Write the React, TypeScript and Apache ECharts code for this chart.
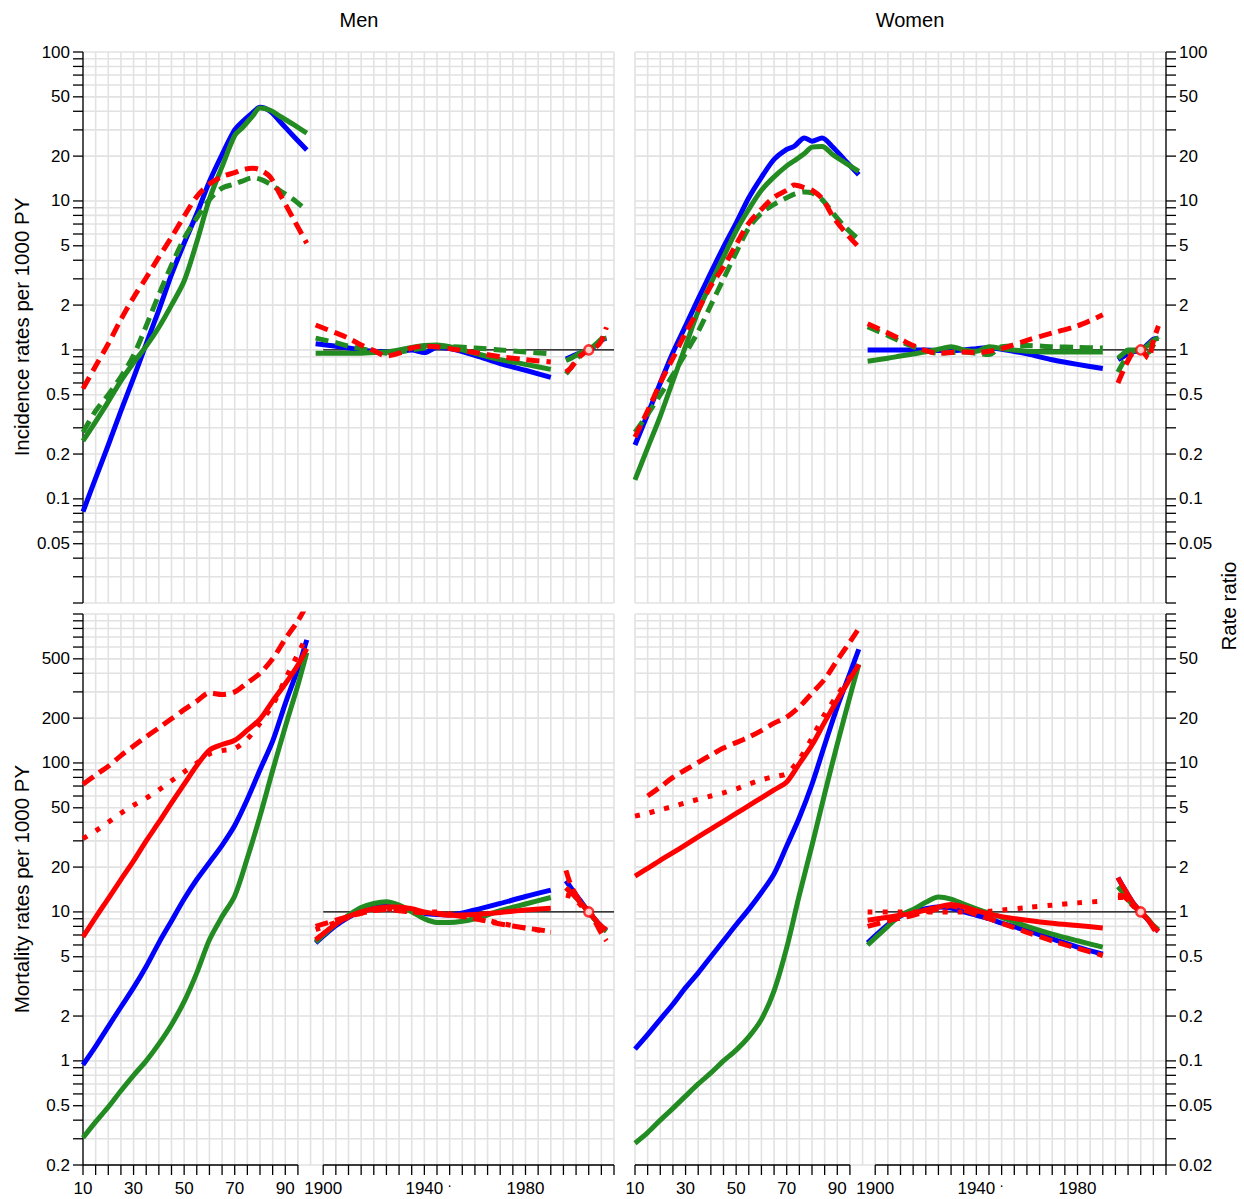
import { useEffect, useRef } from "react";
import * as echarts from "echarts";

// ---------- look ----------
const FONT = '"Liberation Sans", Arial, Helvetica, sans-serif';
const BLUE = "#0000ff";
const GREEN = "#228b22";
const RED = "#ff0000";
const GRID_COLOR = "#e2e2e2";
const LINE_W = 5;

// Calendar years share the x scale with age: year - YEAR_SHIFT gives the position.
const YEAR_SHIFT = 1795;
const X_MIN = 10;
const X_MAX = 220;

// ---------- axes ----------
const AGE_TICKS = [10, 15, 20, 25, 30, 35, 40, 45, 50, 55, 60, 65, 70, 75, 80, 85, 90, 95];
const AGE_LABELS = [10, 30, 50, 70, 90];
const YEAR_TICKS = [1900, 1905, 1910, 1915, 1920, 1925, 1930, 1935, 1940, 1945, 1950, 1955, 1960, 1965, 1970, 1975, 1980, 1985, 1990, 1995, 2000, 2005, 2010, 2015];
const YEAR_LABELS = [1900, 1940, 1980];
const RATE_LABELS_INC = [0.05, 0.1, 0.2, 0.5, 1, 2, 5, 10, 20, 50, 100];
const RATE_LABELS_MORT = [0.2, 0.5, 1, 2, 5, 10, 20, 50, 100, 200, 500];
const RR_LABELS_INC = [0.05, 0.1, 0.2, 0.5, 1, 2, 5, 10, 20, 50, 100];
const RR_LABELS_MORT = [0.02, 0.05, 0.1, 0.2, 0.5, 1, 2, 5, 10, 20, 50];

// ---------- data ----------
const AGES_INC = [10, 15, 20, 25, 30, 35, 40, 45, 50, 55, 60, 65, 70, 73, 77, 80, 84, 88, 93, 98.5];
const AGES_MORT = [10, 15, 20, 25, 30, 35, 40, 45, 50, 55, 60, 65, 70, 75, 80, 85, 90, 95, 98.5];
const PERIODS = [1897, 1905, 1910, 1915, 1920, 1925, 1930, 1935, 1940, 1945, 1950, 1960, 1970, 1980, 1990];
const COHORTS = [1996, 1998, 2000, 2002, 2005, 2008, 2010, 2012];
const COHORT_REF = 2005;

// Men, incidence per 1000 PY by age
const MEN_INC_AGE_BLUE = [0.082, 0.138, 0.23, 0.39, 0.65, 1.1, 1.85, 3.2, 5.2, 8.2, 13.5, 20.5, 30, 34, 39, 42.5, 40, 34, 27.5, 22];
const MEN_INC_AGE_GREEN = [0.245, 0.33, 0.45, 0.62, 0.82, 1.06, 1.42, 2.0, 2.9, 5.3, 10.3, 17, 27.5, 31, 37, 42, 40.6, 36.9, 32.8, 28.5];
const MEN_INC_AGE_GREEN_DASH = [0.28, 0.39, 0.5, 0.66, 0.92, 1.45, 2.35, 3.7, 5.6, 7.7, 10.2, 12.2, 13, 13.6, 14.3, 14, 13, 11.7, 10.3, 8.6];
const MEN_INC_AGE_RED_DASH = [0.55, 0.78, 1.1, 1.6, 2.25, 3.05, 4.2, 5.7, 7.9, 10.7, 13.0, 14.6, 15.5, 16.2, 16.6, 16.2, 14.5, 11, 7.7, 5.2];
// Men, incidence rate ratios by period and cohort
const MEN_INC_PER_BLUE = [1.1, 1.06, 1.03, 1.0, 0.98, 0.97, 0.98, 1.0, 0.96, 1.04, 1.02, 0.92, 0.81, 0.73, 0.655];
const MEN_INC_PER_GREEN = [0.95, 0.95, 0.95, 0.95, 0.96, 0.97, 1.0, 1.04, 1.07, 1.08, 1.05, 0.95, 0.86, 0.8, 0.74];
const MEN_INC_PER_GREEN_DASH = [1.2, 1.12, 1.06, 1.02, 0.98, 0.95, 0.97, 1.0, 1.03, 1.05, 1.05, 1.03, 1.0, 0.97, 0.94];
const MEN_INC_PER_RED_DASH = [1.47, 1.3, 1.2, 1.08, 0.99, 0.91, 0.95, 1.03, 1.06, 1.05, 1.02, 0.96, 0.9, 0.86, 0.83];
const MEN_INC_COH_BLUE = [0.87, 0.9, 0.93, 0.96, 1.0, 1.08, 1.16, 1.2];
const MEN_INC_COH_GREEN = [0.85, 0.88, 0.92, 0.96, 1.0, 1.1, 1.18, 1.2];
const MEN_INC_COH_GREEN_DASH = [0.69, 0.76, 0.86, 0.93, 1.0, 1.08, 1.18, 1.33];
const MEN_INC_COH_RED_DASH = [0.71, 0.76, 0.84, 0.92, 1.0, 1.05, 1.15, 1.42];

// Women, incidence
const WOM_INC_AGE_BLUE = [0.23, 0.37, 0.6, 0.96, 1.45, 2.2, 3.3, 4.9, 7.1, 10.5, 14.4, 19, 22.2, 23.3, 26.5, 25.2, 26.5, 23.2, 18.8, 15];
const WOM_INC_AGE_GREEN = [0.134, 0.22, 0.36, 0.62, 1.06, 1.82, 2.8, 4.2, 6.3, 8.8, 11.8, 14.5, 17.2, 18.6, 20.8, 23, 23.2, 20.6, 18.1, 15.8];
const WOM_INC_AGE_GREEN_DASH = [0.28, 0.37, 0.5, 0.68, 0.95, 1.33, 2.0, 3.0, 4.5, 6.6, 8.3, 9.5, 10.5, 11.1, 11.5, 11.3, 10.2, 8.4, 6.7, 5.5];
const WOM_INC_AGE_RED_DASH = [0.26, 0.39, 0.6, 0.88, 1.3, 1.85, 2.7, 3.6, 5.1, 7.1, 8.8, 10.6, 11.8, 12.8, 12.3, 11.8, 10.4, 8.0, 6.2, 4.9];
const WOM_INC_PER_BLUE = [1.0, 1.0, 1.0, 1.0, 1.0, 0.99, 0.99, 1.0, 1.02, 1.04, 1.01, 0.94, 0.86, 0.8, 0.75];
const WOM_INC_PER_GREEN = [0.84, 0.88, 0.91, 0.94, 0.97, 1.01, 1.05, 1.0, 0.98, 1.05, 1.02, 0.98, 0.97, 0.97, 0.97];
const WOM_INC_PER_GREEN_DASH = [1.43, 1.25, 1.14, 1.05, 0.99, 0.95, 0.96, 0.97, 0.95, 0.93, 1.05, 1.07, 1.05, 1.04, 1.03];
const WOM_INC_PER_RED_DASH = [1.5, 1.3, 1.18, 1.07, 0.99, 0.95, 0.96, 0.97, 0.96, 0.98, 1.02, 1.16, 1.3, 1.45, 1.72];
const WOM_INC_COH_BLUE = [0.86, 0.9, 0.94, 0.97, 1.0, 1.1, 1.18, 1.2];
const WOM_INC_COH_GREEN = [0.88, 0.94, 1.0, 1.0, 1.0, 1.08, 1.16, 1.2];
const WOM_INC_COH_GREEN_DASH = [0.71, 0.82, 0.93, 0.98, 1.0, 0.96, 1.08, 1.22];
const WOM_INC_COH_RED_DASH = [0.6, 0.72, 0.85, 0.96, 1.0, 0.88, 1.15, 1.45];

// Men, mortality per 1000 PY by age
const MEN_MORT_AGE_BLUE = [0.94, 1.25, 1.7, 2.3, 3.1, 4.3, 6.2, 8.7, 12.2, 16.5, 21.5, 28, 38, 57, 90, 140, 250, 430, 670];
const MEN_MORT_AGE_GREEN = [0.305, 0.39, 0.49, 0.63, 0.8, 1.0, 1.3, 1.75, 2.5, 3.9, 6.5, 9.3, 12.8, 23, 44, 89, 175, 334, 550];
const MEN_MORT_AGE_RED = [6.8, 9.2, 12.3, 16.5, 22, 30, 40, 54, 72, 96, 122, 133, 142, 166, 197, 260, 340, 455, 585];
const MEN_MORT_AGE_RED_DASH = [72, 83, 95, 112, 130, 150, 172, 198, 228, 260, 295, 288, 300, 345, 400, 500, 680, 900, 1150];
const MEN_MORT_AGE_RED_DOT = [31, 35, 40, 46, 52, 58, 66, 76, 87, 100, 115, 121, 125, 145, 185, 245, 365, 540, 710];
const MEN_MORT_PER_BLUE = [0.62, 0.81, 0.92, 1.02, 1.09, 1.11, 1.08, 1.03, 0.98, 0.96, 0.955, 1.03, 1.14, 1.27, 1.4];
const MEN_MORT_PER_GREEN = [0.63, 0.83, 0.95, 1.07, 1.14, 1.17, 1.11, 1.0, 0.9, 0.85, 0.85, 0.9, 1.02, 1.13, 1.25];
const MEN_MORT_PER_RED = [0.65, 0.83, 0.93, 1.0, 1.05, 1.08, 1.08, 1.05, 1.0, 0.97, 0.95, 0.96, 0.99, 1.03, 1.06];
const MEN_MORT_PER_RED_DASH = [0.8, 0.88, 0.93, 0.98, 1.02, 1.04, 1.02, 1.0, 0.99, 0.98, 0.96, 0.9, 0.83, 0.78, 0.74];
const MEN_MORT_PER_RED_DOT = [0.76, 0.85, 0.92, 0.98, 1.03, 1.05, 1.03, 1.0, 1.0, 1.0, 0.97, 0.92, 0.84, 0.78, 0.73];
const MEN_MORT_COH_BLUE = [1.62, 1.45, 1.3, 1.17, 1.0, 0.87, 0.8, 0.75];
const MEN_MORT_COH_GREEN = [1.45, 1.35, 1.25, 1.14, 1.0, 0.86, 0.79, 0.74];
const MEN_MORT_COH_RED = [1.45, 1.35, 1.25, 1.14, 1.0, 0.87, 0.8, 0.76];
const MEN_MORT_COH_RED_DASH = [1.9, 1.5, 1.3, 1.15, 1.0, 0.83, 0.72, 0.64];
const MEN_MORT_COH_RED_DOT = [1.3, 1.27, 1.2, 1.1, 1.0, 0.88, 0.8, 0.75];

// Women, mortality
const WOM_MORT_AGE_BLUE = [1.2, 1.5, 1.9, 2.4, 3.1, 3.9, 5.0, 6.4, 8.2, 10.4, 13.5, 18, 27.7, 43, 72, 132, 238, 400, 580];
const WOM_MORT_AGE_GREEN = [0.28, 0.33, 0.4, 0.48, 0.58, 0.7, 0.83, 1.0, 1.18, 1.45, 1.9, 2.95, 5.75, 13, 28, 62, 134, 279, 460];
const WOM_MORT_AGE_RED = [17.4, 19.6, 22.2, 25, 28.2, 31.9, 36, 40.6, 45.8, 51.7, 58.4, 65.9, 74.5, 99, 132, 188, 265, 366, 458];
const WOM_MORT_AGE_RED_DASH = [null, 60, 69, 80, 90, 101, 113, 126, 137, 149, 165, 185, 203, 238, 294, 365, 490, 650, 800];
const WOM_MORT_AGE_RED_DOT = [44, 46, 48.5, 51, 54, 57, 60, 63, 67, 72, 77, 81, 85, 106, 147, 212, 285, 377, 455];
const WOM_MORT_PER_BLUE = [0.62, 0.82, 0.94, 1.01, 1.05, 1.08, 1.06, 1.0, 0.95, 0.9, 0.84, 0.75, 0.66, 0.58, 0.52];
const WOM_MORT_PER_GREEN = [0.6, 0.8, 0.95, 1.04, 1.16, 1.26, 1.22, 1.13, 1.05, 0.98, 0.92, 0.8, 0.71, 0.64, 0.58];
const WOM_MORT_PER_RED = [0.88, 0.92, 0.95, 0.98, 1.03, 1.08, 1.12, 1.08, 1.02, 0.97, 0.93, 0.88, 0.84, 0.81, 0.78];
const WOM_MORT_PER_RED_DASH = [0.8, 0.87, 0.91, 0.95, 1.0, 1.05, 1.1, 1.03, 0.96, 0.9, 0.84, 0.73, 0.64, 0.57, 0.51];
const WOM_MORT_PER_RED_DOT = [1.0, 1.0, 1.0, 1.0, 1.0, 1.0, 1.0, 1.0, 1.0, 1.01, 1.03, 1.07, 1.11, 1.15, 1.18];
const WOM_MORT_COH_BLUE = [1.7, 1.48, 1.3, 1.15, 1.0, 0.88, 0.8, 0.74];
const WOM_MORT_COH_GREEN = [1.48, 1.35, 1.22, 1.1, 1.0, 0.89, 0.81, 0.76];
const WOM_MORT_COH_RED = [1.7, 1.48, 1.3, 1.15, 1.0, 0.88, 0.8, 0.74];
const WOM_MORT_COH_RED_DASH = [1.3, 1.28, 1.2, 1.1, 1.0, 0.88, 0.78, 0.7];
const WOM_MORT_COH_RED_DOT = [1.25, 1.25, 1.18, 1.1, 1.0, 0.88, 0.8, 0.73];

// ---------- panel definitions ----------
type Dash = "solid" | "dashed" | "dotted";
type Curve = { color: string; dash: Dash; age: (number | null)[]; period: number[]; cohort: number[] };
type Panel = {
  grid: { left: number; top: number; width: number; height: number };
  yMin: number;
  yMax: number;
  rrScale: number;
  side: "left" | "right";
  labels: number[];
  showX: boolean;
  ages: number[];
  curves: Curve[];
};

const DASHES: Record<Dash, any> = { solid: "solid", dashed: [13, 7], dotted: [5, 10] };

const PANELS: Panel[] = [
  {
    grid: { left: 83, top: 52, width: 531, height: 551 },
    yMin: 0.02, yMax: 100, rrScale: 1, side: "left", labels: RATE_LABELS_INC, showX: false, ages: AGES_INC,
    curves: [
      { color: BLUE, dash: "solid", age: MEN_INC_AGE_BLUE, period: MEN_INC_PER_BLUE, cohort: MEN_INC_COH_BLUE },
      { color: GREEN, dash: "solid", age: MEN_INC_AGE_GREEN, period: MEN_INC_PER_GREEN, cohort: MEN_INC_COH_GREEN },
      { color: GREEN, dash: "dashed", age: MEN_INC_AGE_GREEN_DASH, period: MEN_INC_PER_GREEN_DASH, cohort: MEN_INC_COH_GREEN_DASH },
      { color: RED, dash: "dashed", age: MEN_INC_AGE_RED_DASH, period: MEN_INC_PER_RED_DASH, cohort: MEN_INC_COH_RED_DASH },
    ],
  },
  {
    grid: { left: 635, top: 52, width: 531, height: 551 },
    yMin: 0.02, yMax: 100, rrScale: 1, side: "right", labels: RR_LABELS_INC, showX: false, ages: AGES_INC,
    curves: [
      { color: BLUE, dash: "solid", age: WOM_INC_AGE_BLUE, period: WOM_INC_PER_BLUE, cohort: WOM_INC_COH_BLUE },
      { color: GREEN, dash: "solid", age: WOM_INC_AGE_GREEN, period: WOM_INC_PER_GREEN, cohort: WOM_INC_COH_GREEN },
      { color: GREEN, dash: "dashed", age: WOM_INC_AGE_GREEN_DASH, period: WOM_INC_PER_GREEN_DASH, cohort: WOM_INC_COH_GREEN_DASH },
      { color: RED, dash: "dashed", age: WOM_INC_AGE_RED_DASH, period: WOM_INC_PER_RED_DASH, cohort: WOM_INC_COH_RED_DASH },
    ],
  },
  {
    grid: { left: 83, top: 614, width: 531, height: 551 },
    yMin: 0.2, yMax: 1000, rrScale: 10, side: "left", labels: RATE_LABELS_MORT, showX: true, ages: AGES_MORT,
    curves: [
      { color: BLUE, dash: "solid", age: MEN_MORT_AGE_BLUE, period: MEN_MORT_PER_BLUE, cohort: MEN_MORT_COH_BLUE },
      { color: GREEN, dash: "solid", age: MEN_MORT_AGE_GREEN, period: MEN_MORT_PER_GREEN, cohort: MEN_MORT_COH_GREEN },
      { color: RED, dash: "solid", age: MEN_MORT_AGE_RED, period: MEN_MORT_PER_RED, cohort: MEN_MORT_COH_RED },
      { color: RED, dash: "dashed", age: MEN_MORT_AGE_RED_DASH, period: MEN_MORT_PER_RED_DASH, cohort: MEN_MORT_COH_RED_DASH },
      { color: RED, dash: "dotted", age: MEN_MORT_AGE_RED_DOT, period: MEN_MORT_PER_RED_DOT, cohort: MEN_MORT_COH_RED_DOT },
    ],
  },
  {
    grid: { left: 635, top: 614, width: 531, height: 551 },
    yMin: 0.2, yMax: 1000, rrScale: 10, side: "right", labels: RR_LABELS_MORT, showX: true, ages: AGES_MORT,
    curves: [
      { color: BLUE, dash: "solid", age: WOM_MORT_AGE_BLUE, period: WOM_MORT_PER_BLUE, cohort: WOM_MORT_COH_BLUE },
      { color: GREEN, dash: "solid", age: WOM_MORT_AGE_GREEN, period: WOM_MORT_PER_GREEN, cohort: WOM_MORT_COH_GREEN },
      { color: RED, dash: "solid", age: WOM_MORT_AGE_RED, period: WOM_MORT_PER_RED, cohort: WOM_MORT_COH_RED },
      { color: RED, dash: "dashed", age: WOM_MORT_AGE_RED_DASH, period: WOM_MORT_PER_RED_DASH, cohort: WOM_MORT_COH_RED_DASH },
      { color: RED, dash: "dotted", age: WOM_MORT_AGE_RED_DOT, period: WOM_MORT_PER_RED_DOT, cohort: WOM_MORT_COH_RED_DOT },
    ],
  },
];

// ---------- helpers ----------
function logTicks(min: number, max: number): number[] {
  const out: number[] = [];
  for (let k = -3; k <= 4; k++) {
    for (let m = 1; m <= 9; m++) {
      const v = Number((m * Math.pow(10, k)).toPrecision(6));
      if (v >= min * 0.999 && v <= max * 1.001) out.push(v);
    }
  }
  return out;
}

const GRID_X: number[] = [];
for (let u = X_MIN; u <= X_MAX; u += 5) GRID_X.push(u);

function frameSeries(p: Panel, idx: number) {
  const ticks = logTicks(p.yMin, p.yMax);
  return {
    type: "custom",
    xAxisIndex: idx,
    yAxisIndex: idx,
    z: 1,
    silent: true,
    clip: false,
    data: [[X_MIN, p.yMin]],
    renderItem: (_params: any, api: any) => {
      const pt = (x: number, y: number) => api.coord([x, y]);
      const kids: any[] = [];
      const seg = (a: number[], b: number[], stroke: string, lw: number) =>
        kids.push({ type: "line", shape: { x1: a[0], y1: a[1], x2: b[0], y2: b[1] }, style: { stroke, lineWidth: lw } });
      const label = (t: string, x: number, y: number, align: string, valign: string, size = 17) =>
        kids.push({
          type: "text",
          x,
          y,
          style: { text: t, fill: "#000", font: `${size}px ${FONT}`, align, verticalAlign: valign, textAlign: align, textVerticalAlign: valign },
        });

      // background grid
      for (const v of ticks) seg(pt(X_MIN, v), pt(X_MAX, v), GRID_COLOR, 1.6);
      for (const u of GRID_X) seg(pt(u, p.yMin), pt(u, p.yMax), GRID_COLOR, 1.6);

      // rate ratio = 1 reference over the calendar part
      seg(pt(1900 - YEAR_SHIFT, p.rrScale), pt(2015 - YEAR_SHIFT, p.rrScale), "#000", 1.2);

      // vertical axis
      const xa = p.side === "left" ? X_MIN : X_MAX;
      const dir = p.side === "left" ? -1 : 1;
      seg(pt(xa, p.yMin), pt(xa, p.yMax), "#000", 1.3);
      for (const v of ticks) {
        const q = pt(xa, v);
        seg(q, [q[0] + dir * 10, q[1]], "#000", 1.3);
      }
      const scale = p.side === "left" ? 1 : p.rrScale;
      for (const v of p.labels) {
        const q = pt(xa, v * scale);
        label(String(v), q[0] + dir * 13, q[1], dir < 0 ? "right" : "left", "middle");
      }

      // horizontal axes: age and calendar time
      if (p.showX) {
        seg(pt(AGE_TICKS[0], p.yMin), pt(AGE_TICKS[AGE_TICKS.length - 1], p.yMin), "#000", 1.3);
        for (const a of AGE_TICKS) {
          const q = pt(a, p.yMin);
          seg(q, [q[0], q[1] + 10], "#000", 1.3);
        }
        for (const a of AGE_LABELS) {
          const q = pt(a, p.yMin);
          label(String(a), q[0], q[1] + 23, "center", "middle");
        }
        const y0 = YEAR_TICKS[0] - YEAR_SHIFT;
        const y1 = YEAR_TICKS[YEAR_TICKS.length - 1] - YEAR_SHIFT;
        seg(pt(y0, p.yMin), pt(y1, p.yMin), "#000", 1.3);
        for (const y of YEAR_TICKS) {
          const q = pt(y - YEAR_SHIFT, p.yMin);
          seg(q, [q[0], q[1] + 10], "#000", 1.3);
        }
        for (const y of YEAR_LABELS) {
          const q = pt(y - YEAR_SHIFT, p.yMin);
          label(String(y), q[0], q[1] + 23, "center", "middle");
        }
        const d = pt(1950 - YEAR_SHIFT, p.yMin);
        label("·", d[0], d[1] + 20, "center", "middle", 14);
      }
      return { type: "group", children: kids };
    },
  };
}

function lineSeries(idx: number, data: number[][], color: string, dash: Dash) {
  return {
    type: "line",
    xAxisIndex: idx,
    yAxisIndex: idx,
    data,
    symbol: "none",
    showSymbol: false,
    smooth: 0.3,
    silent: true,
    clip: true,
    z: 2,
    lineStyle: { color, width: LINE_W, type: DASHES[dash], cap: "butt", join: "round" },
  };
}

function buildOption() {
  const series: any[] = [];
  PANELS.forEach((p, i) => {
    series.push(frameSeries(p, i));
    for (const c of p.curves) {
      const ageData = p.ages
        .map((a, k) => [a, c.age[k]])
        .filter((d) => d[1] !== null && d[1] !== undefined) as number[][];
      const perData = PERIODS.map((y, k) => [y - YEAR_SHIFT, c.period[k] * p.rrScale]);
      const cohData = COHORTS.map((y, k) => [y - YEAR_SHIFT, c.cohort[k] * p.rrScale]);
      series.push(lineSeries(i, ageData, c.color, c.dash));
      series.push(lineSeries(i, perData, c.color, c.dash));
      series.push(lineSeries(i, cohData, c.color, c.dash));
    }
    series.push({
      type: "scatter",
      xAxisIndex: i,
      yAxisIndex: i,
      data: [[COHORT_REF - YEAR_SHIFT, 1 * p.rrScale]],
      symbol: "circle",
      symbolSize: 9,
      silent: true,
      z: 5,
      itemStyle: { color: "#ffffff", borderColor: RED, borderWidth: 2.5 },
    });
  });

  const titleStyle = (text: string, size: number) => ({
    text,
    fill: "#000",
    font: `${size}px ${FONT}`,
    textAlign: "center",
    textVerticalAlign: "middle",
    align: "center",
    verticalAlign: "middle",
  });

  return {
    animation: false,
    backgroundColor: "#ffffff",
    grid: PANELS.map((p) => ({ ...p.grid, containLabel: false })),
    xAxis: PANELS.map((_, i) => ({ type: "value", gridIndex: i, min: X_MIN, max: X_MAX, show: false })),
    yAxis: PANELS.map((p, i) => ({ type: "log", logBase: 10, gridIndex: i, min: p.yMin, max: p.yMax, show: false })),
    graphic: [
      { type: "text", x: 359, y: 20, style: titleStyle("Men", 20) },
      { type: "text", x: 910, y: 20, style: titleStyle("Women", 20) },
      { type: "text", x: 21, y: 327, rotation: Math.PI / 2, style: titleStyle("Incidence rates per 1000 PY", 20.5) },
      { type: "text", x: 21, y: 889, rotation: Math.PI / 2, style: titleStyle("Mortality rates per 1000 PY", 20.5) },
      { type: "text", x: 1228, y: 606, rotation: Math.PI / 2, style: titleStyle("Rate ratio", 20.5) },
    ],
    series,
  };
}

export default function App() {
  const ref = useRef<HTMLDivElement>(null);
  useEffect(() => {
    if (!ref.current) return;
    const chart = echarts.init(ref.current, undefined, { renderer: "svg" });
    chart.setOption(buildOption() as any);
    return () => chart.dispose();
  }, []);
  return <div ref={ref} style={{ position: "absolute", left: 0, top: 0, width: 1244, height: 1199, background: "#fff" }} />;
}
